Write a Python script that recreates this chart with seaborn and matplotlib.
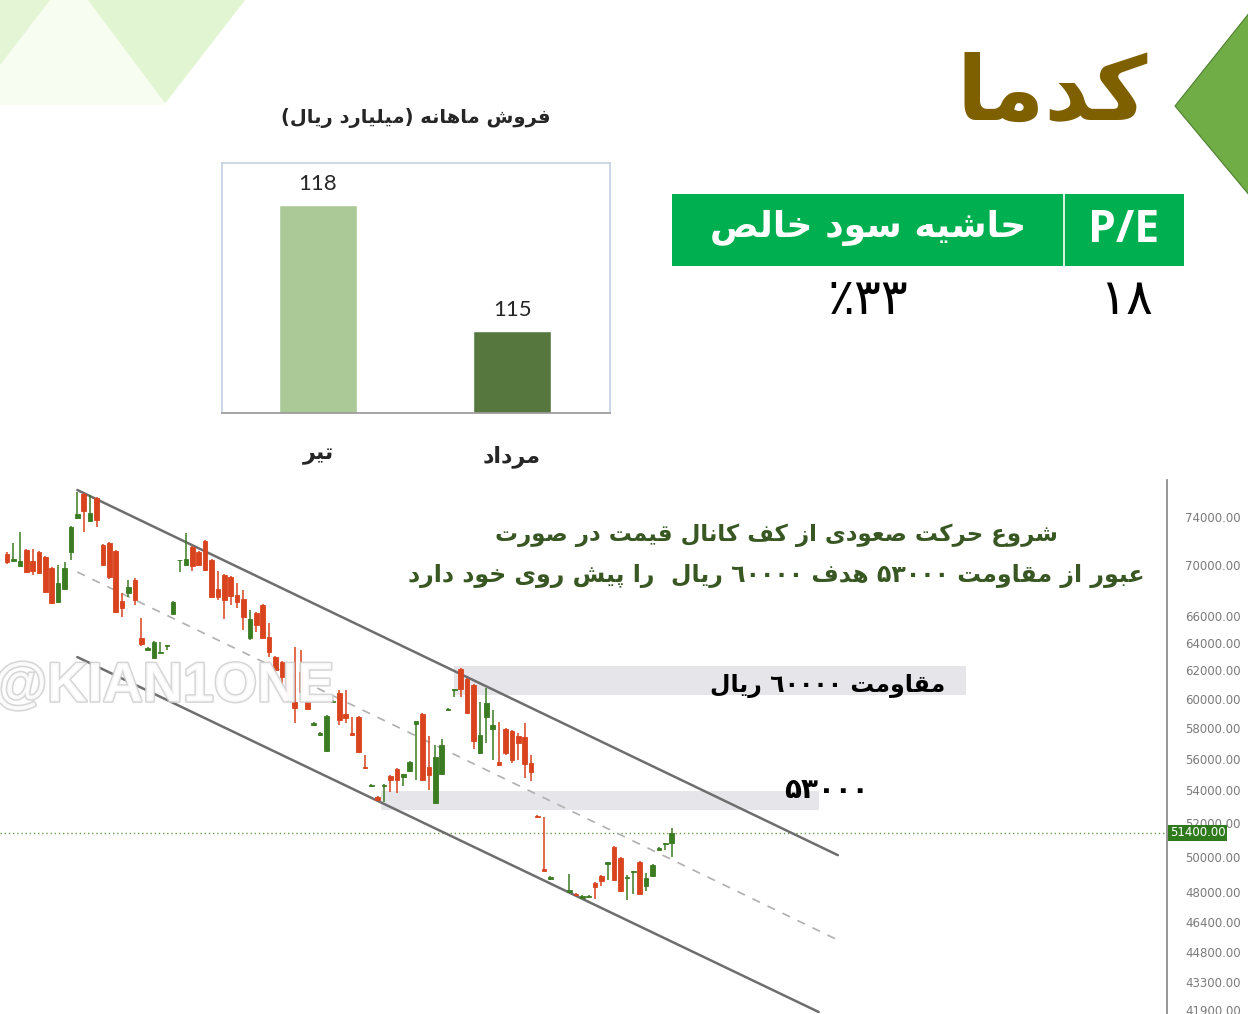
import re
import numpy as np
import pandas as pd
import seaborn as sns
import matplotlib.pyplot as plt
import matplotlib.patheffects as pe
from matplotlib.patches import Polygon, Rectangle
from matplotlib.ticker import FixedLocator, FuncFormatter, NullLocator

# ---- data ----
months = ['تیر', 'مرداد']
sales = [118, 115]
bar_title = 'فروش ماهانه (میلیارد ریال)'
logo = 'کدما'
margin_label = 'حاشیه سود خالص'
pe_label = 'P/E'
margin_value = '۳۳٪'
pe_value = '۱۸'

nan = np.nan
opens = [70910, 70340, 69930, 71240, 70340, 71070, 70670, 69770, 67090, 68100,
         71070, 73910, 75990, 73660, 75640, 71650, 71820, 71160, 67170, 67790,
         68810, 64360, 63480, 62890, 63260, 63800, 66170, 70380, 70020, 71480,
         71070, 71980, 70420, 68100, 69210, 69050, 67630, 67320, 64360, 66240,
         66860, 64440, 62970, 62600, 61890, 59780, 61890, 59780, 58220, 57550,
         56500, 59780, 60410, 58960, 57680, 58760, 55460, 54260, 53580, 54260,
         54890, 55340, 54830, 55210, 58280, 58960, 55460, 53210, 55020, 59230,
         60620, 62100, 61390, 60970, 56370, 58760, 57950, 55780, 57950, 57820,
         57480, 57420, 55720, 52420, 49310, 48740, nan, nan, 48020, 47910,
         47690, 47740, 48520, 48910, 49590, 50570, 49940, 48800, 49140, 49710,
         48350, 48910, 50400, 50750, 50810]
highs = [71070, 71810, 72730, 71320, 71320, 71150, 70750, 69850, 70000, 70260,
         73200, 76170, 76050, 75900, 75700, 71700, 71900, 71230, 67790, 68810,
         68970, 65860, 63700, 64140, 64070, 63850, 67150, 70420, 72650, 71570,
         71150, 72060, 70500, 69530, 69300, 69130, 68580, 68030, 66470, 66320,
         66900, 65480, 63040, 62680, 62000, 63700, 63480, 59850, 58420, 57750,
         58900, 59920, 60620, 60620, 58760, 58820, 56240, 54390, 53640, 54390,
         54950, 55400, 55020, 55850, 58490, 59030, 57480, 56890, 57280, 59370,
         60690, 62170, 61460, 61040, 59780, 60760, 59230, 58420, 58020, 57880,
         57680, 58350, 56240, 52480, 52360, 48910, nan, nan, 49030, 47960,
         47850, 47850, 48570, 48970, 49710, 50640, 50000, 48970, 49190, 49770,
         49080, 49590, 50570, 50810, 51700]
lows = [70100, 70260, 69900, 69370, 69210, 69300, 67800, 66940, 67000, 68050,
        70420, 73850, 72730, 73600, 73150, 69950, 68890, 66250, 65940, 67480,
        66860, 63770, 63400, 62820, 63250, 63480, 66100, 69450, 69930, 69530,
        69950, 69530, 67400, 67250, 65790, 66860, 66630, 64960, 64210, 64810,
        64290, 62970, 61880, 60830, 59800, 58350, 60400, 59230, 58150, 57480,
        56430, 59710, 58220, 58350, 57480, 56360, 55340, 54200, 53330, 53270,
        53890, 53830, 54260, 55140, 54640, 54580, 54010, 53150, 54950, 59160,
        60130, 60130, 58960, 56630, 56300, 57020, 55910, 55530, 56240, 55720,
        55910, 54760, 54580, 52300, 49190, 48690, nan, nan, 47960, 47800,
        47630, 47690, 47630, 48350, 48690, 48630, 48020, 47580, 47910, 47850,
        48070, 48860, 50340, 50400, 50000]
closes = [70260, 70500, 70340, 69450, 69530, 69370, 67870, 67010, 68580, 69770,
          73150, 74260, 74510, 74340, 73750, 70020, 69050, 66320, 66630, 68260,
          67250, 63920, 63620, 64070, 63330, 63840, 67090, 70420, 70500, 69930,
          70020, 69610, 67480, 67480, 67250, 67560, 67090, 65940, 65790, 65330,
          64360, 63330, 62030, 61530, 59920, 59370, 60480, 59300, 58350, 57680,
          58820, 59850, 58550, 58690, 57550, 56430, 55400, 54320, 53390, 54320,
          54640, 54640, 55020, 55780, 58490, 54640, 54950, 56110, 56890, 59300,
          60690, 60690, 59030, 57150, 57550, 59710, 58220, 55590, 56370, 55910,
          57020, 55660, 55150, 52360, 49190, 48860, nan, nan, 48130, 47850,
          47800, 47800, 48300, 48630, 49710, 48690, 48070, 48860, 49190, 47910,
          48800, 49540, 50520, 50810, 51400]

price_ticks = [74000, 70000, 66000, 64000, 62000, 60000, 58000, 56000, 54000,
               52000, 50000, 48000, 46400, 44800, 43300, 41900]
last_price = 51400

chan_x = [11, 130]
chan_upper = [76340, 50100]
chan_mid = [69450, 45430]
chan_lower_x = [11, 127]
chan_lower = [62960, 41810]
resist_zone = [60300, 62300]
support_zone = [52800, 53950]

note_1 = 'شروع حرکت صعودی از کف کانال قیمت در صورت'
note_2 = 'عبور از مقاومت ۵۳۰۰۰ هدف ٦٠٠٠٠ ریال  را پیش روی خود دارد'
resist_label = 'مقاومت ٦٠٠٠٠ ریال'
support_label = '۵۳۰۰۰'
watermark = '@KIAN1ONE'

# ---- persian shaping (matplotlib has no text shaping) ----
FORMS = {
    'ا': ('\uFE8D', '\uFE8E', None, None), 'آ': ('\uFE81', '\uFE82', None, None),
    'ب': ('\uFE8F', '\uFE90', '\uFE91', '\uFE92'), 'پ': ('\uFB56', '\uFB57', '\uFB58', '\uFB59'),
    'ت': ('\uFE95', '\uFE96', '\uFE97', '\uFE98'), 'ج': ('\uFE9D', '\uFE9E', '\uFE9F', '\uFEA0'),
    'ح': ('\uFEA1', '\uFEA2', '\uFEA3', '\uFEA4'), 'خ': ('\uFEA5', '\uFEA6', '\uFEA7', '\uFEA8'),
    'د': ('\uFEA9', '\uFEAA', None, None), 'ر': ('\uFEAD', '\uFEAE', None, None),
    'ز': ('\uFEAF', '\uFEB0', None, None), 'س': ('\uFEB1', '\uFEB2', '\uFEB3', '\uFEB4'),
    'ش': ('\uFEB5', '\uFEB6', '\uFEB7', '\uFEB8'), 'ص': ('\uFEB9', '\uFEBA', '\uFEBB', '\uFEBC'),
    'ع': ('\uFEC9', '\uFECA', '\uFECB', '\uFECC'), 'ف': ('\uFED1', '\uFED2', '\uFED3', '\uFED4'),
    'ق': ('\uFED5', '\uFED6', '\uFED7', '\uFED8'), 'ک': ('\uFB8E', '\uFB8F', '\uFB90', '\uFB91'),
    'ل': ('\uFEDD', '\uFEDE', '\uFEDF', '\uFEE0'), 'م': ('\uFEE1', '\uFEE2', '\uFEE3', '\uFEE4'),
    'ن': ('\uFEE5', '\uFEE6', '\uFEE7', '\uFEE8'), 'و': ('\uFEED', '\uFEEE', None, None),
    'ه': ('\uFEE9', '\uFEEA', '\uFEEB', '\uFEEC'), 'ی': ('\uFBFC', '\uFBFD', '\uFBFE', '\uFBFF'),
}


def fa(text):
    out = []
    for i, ch in enumerate(text):
        if ch not in FORMS:
            out.append(ch)
            continue
        prev = text[i - 1] if i > 0 else ''
        nxt = text[i + 1] if i + 1 < len(text) else ''
        j_prev = prev in FORMS and FORMS[prev][2] is not None
        j_next = nxt in FORMS and FORMS[ch][2] is not None
        iso, fin, ini, med = FORMS[ch]
        out.append(med if j_prev and j_next else fin if j_prev else ini if j_next else iso)
    s = ''.join(out)[::-1]
    s = re.sub(r'[0-9A-Za-z/\u0660-\u0669\u06F0-\u06F9]+', lambda m: m.group()[::-1], s)
    return s.translate(str.maketrans('()', ')('))


# ---- figure ----
sns.set_theme(style='white')
plt.rcParams['font.family'] = ['DejaVu Sans']
W, H = 1248, 1014
fig = plt.figure(figsize=(W / 100, H / 100), dpi=100)


def fp(x, y):
    return (x / W, 1 - y / H)


# decorations
for pts, col in [([(0, 0), (245, 0), (165, 105), (0, 105)], '#f7fdf0'),
                 ([(0, 0), (50, 0), (0, 65)], '#e3f5d4'),
                 ([(88, 0), (245, 0), (165, 103)], '#e2f5d3')]:
    fig.patches.append(Polygon([fp(*p) for p in pts], closed=True, transform=fig.transFigure,
                               fc=col, ec='none', zorder=0))
fig.patches.append(Polygon([fp(1250, 12), fp(1175, 106), fp(1250, 196)], closed=True,
                           transform=fig.transFigure, fc='#70ad47', ec='#4f7f30', lw=0.8))

fig.text(*fp(1052, 95), fa(logo), fontsize=64, fontweight='bold', color='#7f6000',
         ha='center', va='center')

# table
fig.patches.append(Rectangle(fp(672, 266), 512 / W, 72 / H, transform=fig.transFigure,
                             fc='#00b050', ec='none'))
fig.lines.append(plt.Line2D([1064 / W, 1064 / W], [1 - 194 / H, 1 - 266 / H],
                            transform=fig.transFigure, color='white', lw=1.2))
fig.text(*fp(868, 228), fa(margin_label), fontsize=26, fontweight='bold', color='white',
         ha='center', va='center')
fig.text(*fp(1124, 231), pe_label, fontsize=32, fontweight='bold', color='white',
         ha='center', va='center', family='Open Sans')
fig.text(*fp(868, 300), fa(margin_value), fontsize=36, color='black', ha='center', va='center')
fig.text(*fp(1126, 300), fa(pe_value), fontsize=36, color='black', ha='center', va='center')

# bar chart
ax1 = fig.add_axes([222 / W, 1 - 413 / H, 388 / W, 250 / H])
df = pd.DataFrame({'month': [fa(m) for m in months], 'sales': sales})
sns.barplot(data=df, x='month', y='sales', hue='month', palette=['#a9d18e', '#548235'],
            width=0.4, legend=False, ax=ax1)
for cont in ax1.containers:
    ax1.bar_label(cont, padding=8, fontsize=16, family='Lato')
ax1.set_ylim(113.05, 119)
ax1.set_xlim(-0.495, 1.505)
ax1.set_yticks([])
ax1.set_xlabel('')
ax1.set_ylabel('')
ax1.tick_params(axis='x', length=0, pad=23, labelsize=16)
for t in ax1.get_xticklabels():
    t.set_fontweight('bold')
for side in ['top', 'left', 'right']:
    ax1.spines[side].set_color('#c5d3e3')
ax1.spines['bottom'].set_color('#9a9a9a')
ax1.set_title(fa(bar_title), fontsize=14, fontweight='bold', pad=29)

# candle chart
ax2 = fig.add_axes([0, 0, 1167 / W, 534 / H])
ax2.set_facecolor('none')
o, hi, lo, c = (np.array(v, dtype=float) for v in (opens, highs, lows, closes))
x = np.arange(len(o))
ok = ~np.isnan(o)
up = c >= o
cols = np.where(up, '#3b7b22', '#d9431e')
ax2.fill_between([70, 150], *resist_zone, color='#e6e6ea', lw=0, zorder=1)
ax2.fill_between([58.5, 127], *support_zone, color='#e6e6ea', lw=0, zorder=1)
ax2.axhline(last_price, color='#6a9a4a', ls=(0, (1, 2)), lw=1, zorder=2)
ax2.plot(chan_x, chan_upper, color='#6e6e6e', lw=1.8, zorder=2)
ax2.plot(chan_lower_x, chan_lower, color='#6e6e6e', lw=1.8, zorder=2)
ax2.plot(chan_x, chan_mid, color='#b0b0b0', lw=1.2, ls=(0, (5, 5)), zorder=2)
ax2.vlines(x[ok], lo[ok], hi[ok], colors=cols[ok], lw=1.1, zorder=3)
ax2.bar(x[ok], np.abs(c - o)[ok], bottom=np.minimum(o, c)[ok], width=0.72,
        color=cols[ok], edgecolor=cols[ok], lw=0.6, zorder=4)
ax2.set_yscale('log')
ax2.set_xlim(-1.1, 181.5)
ax2.set_ylim(41714, 77226)
ax2.yaxis.tick_right()
ax2.yaxis.set_major_locator(FixedLocator(price_ticks))
ax2.yaxis.set_minor_locator(NullLocator())
ax2.yaxis.set_major_formatter(FuncFormatter(lambda v, _: f'{v:.2f}'))
ax2.tick_params(axis='y', length=0, pad=13, labelsize=8.5, labelcolor='#7a7a7a')
ax2.set_xticks([])
for side in ['top', 'left', 'bottom']:
    ax2.spines[side].set_visible(False)
ax2.spines['right'].set_color('#8a8a8a')
ax2.annotate(f'{last_price:.2f}', xy=(1, last_price), xycoords=('axes fraction', 'data'),
             xytext=(2, 0), textcoords='offset points', va='center', ha='left',
             fontsize=8.5, color='white',
             bbox=dict(boxstyle='square,pad=0.15', fc='#2f7a1c', ec='none'))

ax2.text(-2.2, 60800, watermark, fontsize=40, fontweight='bold', family='Liberation Sans',
         color='white', alpha=0.85, va='center', ha='left', zorder=6,
         path_effects=[pe.withStroke(linewidth=2.2, foreground='#cfcfcf')])

fig.text(*fp(776, 535), fa(note_1), fontsize=16.5, fontweight='bold', color='#385723',
         ha='center', va='center')
fig.text(*fp(776, 576), fa(note_2), fontsize=17, fontweight='bold', color='#385723',
         ha='center', va='center')
fig.text(*fp(828, 686), fa(resist_label), fontsize=17, fontweight='bold', color='black',
         ha='center', va='center')
fig.text(*fp(826, 790), fa(support_label), fontsize=20, fontweight='bold', color='black',
         ha='center', va='center')

fig.savefig('out.png', dpi=100)
